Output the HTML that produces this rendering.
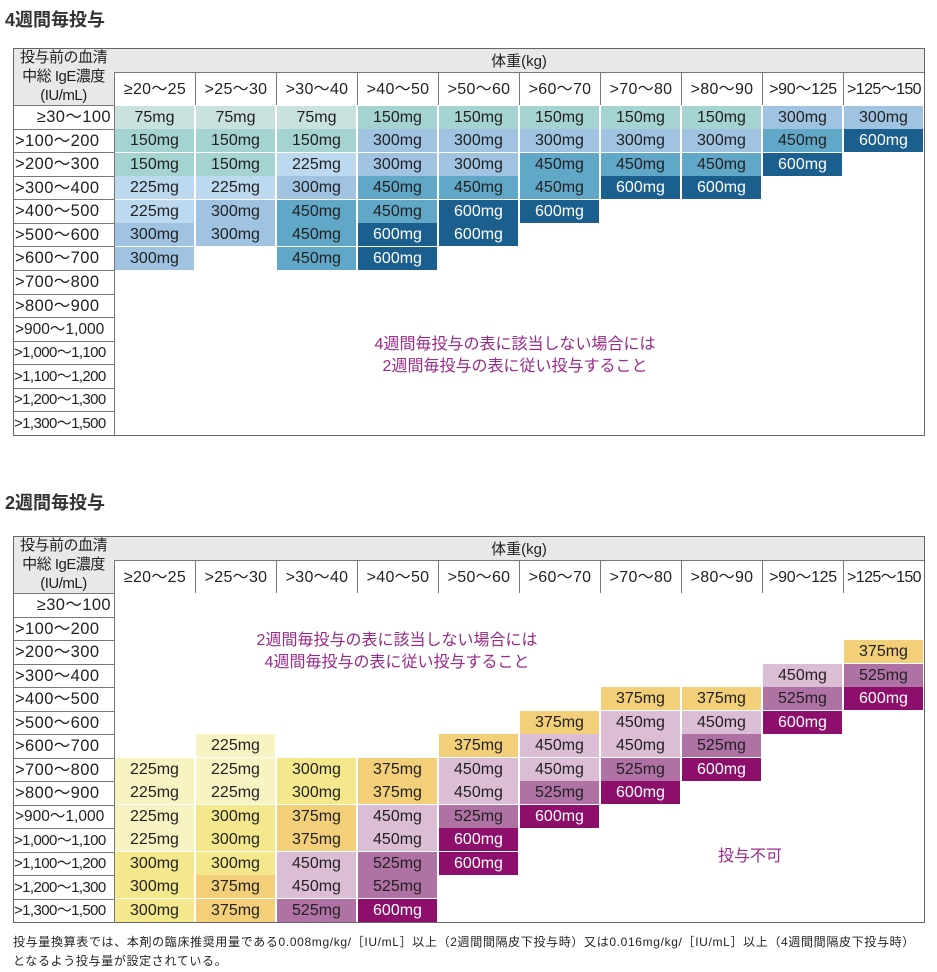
<!DOCTYPE html>
<html><head><meta charset="utf-8">
<style>
body{margin:0;background:#fff;width:937px;height:972px;position:relative;overflow:hidden;font-family:"Liberation Sans","Noto Sans CJK JP",sans-serif;color:#222}
.a{position:absolute}
.t{font-size:18px;font-weight:bold;color:#333}
.box{position:absolute;border:1px solid #666;box-sizing:border-box}
.hd{position:absolute;background:#e8e8e8}
.ch{position:absolute;font-size:16px;text-align:center;border-left:1px solid #777;box-sizing:border-box;white-space:nowrap;letter-spacing:0.3px}
.rl{position:absolute;left:13px;width:101px;font-size:16.5px;border-top:1px solid #777;box-sizing:border-box;white-space:nowrap;overflow:hidden;padding-left:2px;letter-spacing:0.4px}
.sm{font-size:15px;letter-spacing:-0.6px;padding-left:1px}
.c{position:absolute;width:80px;font-size:16px;text-align:center;box-sizing:border-box;border-right:1px solid #fff;border-bottom:1px solid #fff}
.t1 .c{height:23.5px;line-height:23px}
.t2 .c{height:23.5px;line-height:23px}
.b75{background:#cae2de}.b150{background:#a5d3d1}.b225{background:#bcd9ef}.b300{background:#9fc3e1}.b450{background:#61a7c7}.b600{background:#1b5f8f;color:#fff}
.y225{background:#f8f3c2}.y300{background:#f4e78c}.y375{background:#f3cf79}.p450{background:#dcbdd6}.p525{background:#b071a4}.p600{background:#8d0f6b;color:#fff}
.msg{position:absolute;color:#9b2a8a;font-size:16px;text-align:center;line-height:22px}
.lh{position:absolute;left:13px;width:101px;background:#e8e8e8;font-size:15px;text-align:center;line-height:19px;letter-spacing:-0.5px}
</style></head><body>
<div class="a t" style="left:5px;top:6px">4週間毎投与</div>
<div class="a t" style="left:5px;top:489px">2週間毎投与</div>

<!-- TABLE 1 -->
<div class="t1">
<div class="hd" style="left:114px;top:48px;width:810px;height:24px"></div>
<div class="a" style="left:114px;top:50px;width:810px;text-align:center;font-size:15px">体重(kg)</div>
<div class="lh" style="top:48px;height:57px">投与前の血清<br>中総 IgE濃度<br>(IU/mL)</div>
<div class="ch" style="left:114px;top:72px;width:81px;height:33px;line-height:33px;border-top:1px solid #777">≥20～25</div>
<div class="ch" style="left:195px;top:72px;width:81px;height:33px;line-height:33px;border-top:1px solid #777">&gt;25～30</div>
<div class="ch" style="left:276px;top:72px;width:81px;height:33px;line-height:33px;border-top:1px solid #777">&gt;30～40</div>
<div class="ch" style="left:357px;top:72px;width:81px;height:33px;line-height:33px;border-top:1px solid #777">&gt;40～50</div>
<div class="ch" style="left:438px;top:72px;width:81px;height:33px;line-height:33px;border-top:1px solid #777">&gt;50～60</div>
<div class="ch" style="left:519px;top:72px;width:81px;height:33px;line-height:33px;border-top:1px solid #777">&gt;60～70</div>
<div class="ch" style="left:600px;top:72px;width:81px;height:33px;line-height:33px;border-top:1px solid #777">&gt;70～80</div>
<div class="ch" style="left:681px;top:72px;width:81px;height:33px;line-height:33px;border-top:1px solid #777">&gt;80～90</div>
<div class="ch" style="left:762px;top:72px;width:81px;height:33px;line-height:33px;border-top:1px solid #777;letter-spacing:-0.3px">&gt;90～125</div>
<div class="ch" style="left:843px;top:72px;width:81px;height:33px;line-height:33px;border-top:1px solid #777;letter-spacing:-0.6px">&gt;125～150</div>
<div class="a" style="left:114px;top:105px;width:1px;height:330px;background:#777"></div>
<div class="rl" style="top:105px;height:24px;line-height:23px;text-align:right;padding-right:3px">≥30～100</div>
<div class="rl" style="top:129px;height:23px;line-height:22px">&gt;100～200</div>
<div class="rl" style="top:152px;height:24px;line-height:23px">&gt;200～300</div>
<div class="rl" style="top:176px;height:23px;line-height:22px">&gt;300～400</div>
<div class="rl" style="top:199px;height:24px;line-height:23px">&gt;400～500</div>
<div class="rl" style="top:223px;height:23px;line-height:22px">&gt;500～600</div>
<div class="rl" style="top:246px;height:24px;line-height:23px">&gt;600～700</div>
<div class="rl" style="top:270px;height:24px;line-height:23px">&gt;700～800</div>
<div class="rl" style="top:294px;height:23px;line-height:22px">&gt;800～900</div>
<div class="rl" style="top:317px;height:24px;line-height:23px;font-size:15.5px;letter-spacing:0">&gt;900～1,000</div>
<div class="rl sm" style="top:341px;height:23px;line-height:22px">&gt;1,000～1,100</div>
<div class="rl sm" style="top:364px;height:24px;line-height:23px">&gt;1,100～1,200</div>
<div class="rl sm" style="top:388px;height:23px;line-height:22px">&gt;1,200～1,300</div>
<div class="rl sm" style="top:411px;height:24px;line-height:23px">&gt;1,300～1,500</div>

<div class="c b75" style="left:115px;top:106px">75mg</div><div class="c b75" style="left:196px;top:106px">75mg</div><div class="c b75" style="left:277px;top:106px">75mg</div><div class="c b150" style="left:358px;top:106px">150mg</div><div class="c b150" style="left:439px;top:106px">150mg</div><div class="c b150" style="left:520px;top:106px">150mg</div><div class="c b150" style="left:601px;top:106px">150mg</div><div class="c b150" style="left:682px;top:106px">150mg</div><div class="c b300" style="left:763px;top:106px">300mg</div><div class="c b300" style="left:844px;top:106px">300mg</div>
<div class="c b150" style="left:115px;top:129px">150mg</div><div class="c b150" style="left:196px;top:129px">150mg</div><div class="c b150" style="left:277px;top:129px">150mg</div><div class="c b300" style="left:358px;top:129px">300mg</div><div class="c b300" style="left:439px;top:129px">300mg</div><div class="c b300" style="left:520px;top:129px">300mg</div><div class="c b300" style="left:601px;top:129px">300mg</div><div class="c b300" style="left:682px;top:129px">300mg</div><div class="c b450" style="left:763px;top:129px">450mg</div><div class="c b600" style="left:844px;top:129px">600mg</div>
<div class="c b150" style="left:115px;top:153px">150mg</div><div class="c b150" style="left:196px;top:153px">150mg</div><div class="c b225" style="left:277px;top:153px">225mg</div><div class="c b300" style="left:358px;top:153px">300mg</div><div class="c b300" style="left:439px;top:153px">300mg</div><div class="c b450" style="left:520px;top:153px">450mg</div><div class="c b450" style="left:601px;top:153px">450mg</div><div class="c b450" style="left:682px;top:153px">450mg</div><div class="c b600" style="left:763px;top:153px">600mg</div>
<div class="c b225" style="left:115px;top:176px">225mg</div><div class="c b225" style="left:196px;top:176px">225mg</div><div class="c b300" style="left:277px;top:176px">300mg</div><div class="c b450" style="left:358px;top:176px">450mg</div><div class="c b450" style="left:439px;top:176px">450mg</div><div class="c b450" style="left:520px;top:176px">450mg</div><div class="c b600" style="left:601px;top:176px">600mg</div><div class="c b600" style="left:682px;top:176px">600mg</div>
<div class="c b225" style="left:115px;top:200px">225mg</div><div class="c b300" style="left:196px;top:200px">300mg</div><div class="c b450" style="left:277px;top:200px">450mg</div><div class="c b450" style="left:358px;top:200px">450mg</div><div class="c b600" style="left:439px;top:200px">600mg</div><div class="c b600" style="left:520px;top:200px">600mg</div>
<div class="c b300" style="left:115px;top:223px">300mg</div><div class="c b300" style="left:196px;top:223px">300mg</div><div class="c b450" style="left:277px;top:223px">450mg</div><div class="c b600" style="left:358px;top:223px">600mg</div><div class="c b600" style="left:439px;top:223px">600mg</div>
<div class="c b300" style="left:115px;top:247px">300mg</div><div class="c b450" style="left:277px;top:247px">450mg</div><div class="c b600" style="left:358px;top:247px">600mg</div>
<div class="msg" style="left:300px;top:334px;width:430px">4週間毎投与の表に該当しない場合には<br>2週間毎投与の表に従い投与すること</div>
<div class="box" style="left:13px;top:48px;width:912px;height:388px"></div>
</div>

<!-- TABLE 2 -->
<div class="t2">
<div class="hd" style="left:114px;top:536px;width:810px;height:24px"></div>
<div class="a" style="left:114px;top:538px;width:810px;text-align:center;font-size:15px">体重(kg)</div>
<div class="lh" style="top:536px;height:57px">投与前の血清<br>中総 IgE濃度<br>(IU/mL)</div>
<div class="ch" style="left:114px;top:560px;width:81px;height:33px;line-height:33px;border-top:1px solid #777">≥20～25</div>
<div class="ch" style="left:195px;top:560px;width:81px;height:33px;line-height:33px;border-top:1px solid #777">&gt;25～30</div>
<div class="ch" style="left:276px;top:560px;width:81px;height:33px;line-height:33px;border-top:1px solid #777">&gt;30～40</div>
<div class="ch" style="left:357px;top:560px;width:81px;height:33px;line-height:33px;border-top:1px solid #777">&gt;40～50</div>
<div class="ch" style="left:438px;top:560px;width:81px;height:33px;line-height:33px;border-top:1px solid #777">&gt;50～60</div>
<div class="ch" style="left:519px;top:560px;width:81px;height:33px;line-height:33px;border-top:1px solid #777">&gt;60～70</div>
<div class="ch" style="left:600px;top:560px;width:81px;height:33px;line-height:33px;border-top:1px solid #777">&gt;70～80</div>
<div class="ch" style="left:681px;top:560px;width:81px;height:33px;line-height:33px;border-top:1px solid #777">&gt;80～90</div>
<div class="ch" style="left:762px;top:560px;width:81px;height:33px;line-height:33px;border-top:1px solid #777;letter-spacing:-0.3px">&gt;90～125</div>
<div class="ch" style="left:843px;top:560px;width:81px;height:33px;line-height:33px;border-top:1px solid #777;letter-spacing:-0.6px">&gt;125～150</div>
<div class="a" style="left:114px;top:593px;width:1px;height:329px;background:#777"></div>
<div class="rl" style="top:593px;height:24px;line-height:23px;text-align:right;padding-right:3px">≥30～100</div>
<div class="rl" style="top:617px;height:23px;line-height:22px">&gt;100～200</div>
<div class="rl" style="top:640px;height:24px;line-height:23px">&gt;200～300</div>
<div class="rl" style="top:664px;height:23px;line-height:22px">&gt;300～400</div>
<div class="rl" style="top:687px;height:24px;line-height:23px">&gt;400～500</div>
<div class="rl" style="top:711px;height:23px;line-height:22px">&gt;500～600</div>
<div class="rl" style="top:734px;height:24px;line-height:23px">&gt;600～700</div>
<div class="rl" style="top:758px;height:23px;line-height:22px">&gt;700～800</div>
<div class="rl" style="top:781px;height:24px;line-height:23px">&gt;800～900</div>
<div class="rl" style="top:805px;height:23px;line-height:22px;font-size:15.5px;letter-spacing:0">&gt;900～1,000</div>
<div class="rl sm" style="top:828px;height:24px;line-height:23px">&gt;1,000～1,100</div>
<div class="rl sm" style="top:852px;height:23px;line-height:22px">&gt;1,100～1,200</div>
<div class="rl sm" style="top:875px;height:24px;line-height:23px">&gt;1,200～1,300</div>
<div class="rl sm" style="top:899px;height:23px;line-height:22px">&gt;1,300～1,500</div>

<div class="c y375" style="left:844px;top:640px">375mg</div>
<div class="c p450" style="left:763px;top:664px">450mg</div><div class="c p525" style="left:844px;top:664px">525mg</div>
<div class="c y375" style="left:601px;top:687px">375mg</div><div class="c y375" style="left:682px;top:687px">375mg</div><div class="c p525" style="left:763px;top:687px">525mg</div><div class="c p600" style="left:844px;top:687px">600mg</div>
<div class="c y375" style="left:520px;top:711px">375mg</div><div class="c p450" style="left:601px;top:711px">450mg</div><div class="c p450" style="left:682px;top:711px">450mg</div><div class="c p600" style="left:763px;top:711px">600mg</div>
<div class="c y225" style="left:196px;top:734px">225mg</div><div class="c y375" style="left:439px;top:734px">375mg</div><div class="c p450" style="left:520px;top:734px">450mg</div><div class="c p450" style="left:601px;top:734px">450mg</div><div class="c p525" style="left:682px;top:734px">525mg</div>
<div class="c y225" style="left:115px;top:758px">225mg</div><div class="c y225" style="left:196px;top:758px">225mg</div><div class="c y300" style="left:277px;top:758px">300mg</div><div class="c y375" style="left:358px;top:758px">375mg</div><div class="c p450" style="left:439px;top:758px">450mg</div><div class="c p450" style="left:520px;top:758px">450mg</div><div class="c p525" style="left:601px;top:758px">525mg</div><div class="c p600" style="left:682px;top:758px">600mg</div>
<div class="c y225" style="left:115px;top:781px">225mg</div><div class="c y225" style="left:196px;top:781px">225mg</div><div class="c y300" style="left:277px;top:781px">300mg</div><div class="c y375" style="left:358px;top:781px">375mg</div><div class="c p450" style="left:439px;top:781px">450mg</div><div class="c p525" style="left:520px;top:781px">525mg</div><div class="c p600" style="left:601px;top:781px">600mg</div>
<div class="c y225" style="left:115px;top:805px">225mg</div><div class="c y300" style="left:196px;top:805px">300mg</div><div class="c y375" style="left:277px;top:805px">375mg</div><div class="c p450" style="left:358px;top:805px">450mg</div><div class="c p525" style="left:439px;top:805px">525mg</div><div class="c p600" style="left:520px;top:805px">600mg</div>
<div class="c y225" style="left:115px;top:828px">225mg</div><div class="c y300" style="left:196px;top:828px">300mg</div><div class="c y375" style="left:277px;top:828px">375mg</div><div class="c p450" style="left:358px;top:828px">450mg</div><div class="c p600" style="left:439px;top:828px">600mg</div>
<div class="c y300" style="left:115px;top:852px">300mg</div><div class="c y300" style="left:196px;top:852px">300mg</div><div class="c p450" style="left:277px;top:852px">450mg</div><div class="c p525" style="left:358px;top:852px">525mg</div><div class="c p600" style="left:439px;top:852px">600mg</div>
<div class="c y300" style="left:115px;top:875px">300mg</div><div class="c y375" style="left:196px;top:875px">375mg</div><div class="c p450" style="left:277px;top:875px">450mg</div><div class="c p525" style="left:358px;top:875px">525mg</div>
<div class="c y300" style="left:115px;top:899px">300mg</div><div class="c y375" style="left:196px;top:899px">375mg</div><div class="c p525" style="left:277px;top:899px">525mg</div><div class="c p600" style="left:358px;top:899px">600mg</div>
<div class="msg" style="left:182px;top:630px;width:430px">2週間毎投与の表に該当しない場合には<br>4週間毎投与の表に従い投与すること</div>
<div class="msg" style="left:700px;top:846px;width:100px">投与不可</div>
<div class="box" style="left:13px;top:536px;width:912px;height:387px"></div>
</div>

<div class="a" style="left:13px;top:933px;width:905px;font-size:12px;line-height:19px;color:#222;letter-spacing:0.65px">投与量換算表では、本剤の臨床推奨用量である0.008mg/kg/［IU/mL］以上（2週間間隔皮下投与時）又は0.016mg/kg/［IU/mL］以上（4週間間隔皮下投与時）となるよう投与量が設定されている。</div>
</body></html>
